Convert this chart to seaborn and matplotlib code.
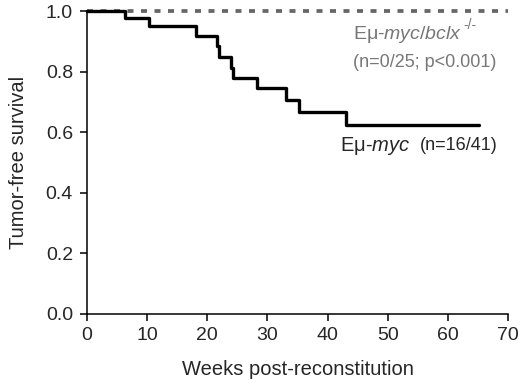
import matplotlib
matplotlib.use("Agg")
import matplotlib.pyplot as plt
import seaborn as sns
import pandas as pd

# --- Data ---
myc_weeks = [0, 6.3, 10.3, 18.1, 21.6, 22.0, 24.0, 24.3, 28.2, 33.1, 35.2, 43.1, 65.1]
myc_surv = [1.0, 0.976, 0.951, 0.917, 0.885, 0.849, 0.81, 0.78, 0.744, 0.705, 0.665, 0.623, 0.623]
bclx_weeks = [0, 70]
bclx_surv = [1.0, 1.0]

x_ticks = [0, 10, 20, 30, 40, 50, 60, 70]
y_ticks = [0.0, 0.2, 0.4, 0.6, 0.8, 1.0]

# --- Style ---
sns.set_theme(style="ticks")
plt.rcParams['font.family'] = ['Liberation Sans', 'DejaVu Sans']
plt.rcParams['mathtext.fontset'] = 'custom'
plt.rcParams['mathtext.rm'] = 'Liberation Sans'
plt.rcParams['mathtext.it'] = 'Liberation Sans:italic'

fig = plt.figure(figsize=(5.2, 3.8), dpi=100)
ax = fig.add_axes([0.167, 0.175, 0.81, 0.796])

df_myc = pd.DataFrame({'week': myc_weeks, 'surv': myc_surv})
df_bclx = pd.DataFrame({'week': bclx_weeks, 'surv': bclx_surv})

sns.lineplot(data=df_bclx, x='week', y='surv', ax=ax, color='#666666',
             linewidth=2.7, dashes=False, clip_on=False, zorder=2)
ax.lines[-1].set_dashes((1.6, 2.0))
sns.lineplot(data=df_myc, x='week', y='surv', ax=ax, color='black',
             linewidth=2.4, drawstyle='steps-post', clip_on=False, zorder=3)

# --- Annotations ---
ax.text(42.0, 0.554, r'E$\mathrm{\mu}$-$\mathit{myc}$', fontsize=14.5, va='center', ha='left')
ax.text(55.3, 0.554, '(n=16/41)', fontsize=13, va='center', ha='left')
gray_lbl = ax.text(44.2, 0.922, r'Eμ-$\mathit{myc/bclx}$', fontsize=14, color='#777777',
                   va='center', ha='left')
ax.annotate('-/-', xy=(1.0, 0.95), xycoords=gray_lbl, xytext=(1, 0),
            textcoords='offset points', fontsize=10, color='#777777',
            ha='left', va='center')
ax.text(44.2, 0.829, '(n=0/25; p<0.001)', fontsize=13, color='#777777',
        va='center', ha='left')

# --- Axes styling ---
ax.set_xlim(0, 70)
ax.set_ylim(0, 1.0)
ax.set_xticks(x_ticks)
ax.set_yticks(y_ticks)
ax.set_yticklabels([f'{v:.1f}' for v in y_ticks])
ax.set_xlabel('Weeks post-reconstitution', fontsize=14.5, labelpad=11)
ax.set_ylabel('Tumor-free survival', fontsize=14.5, labelpad=13)
ax.tick_params(axis='both', labelsize=14, length=5, width=1.1, color='black',
               direction='out', pad=5)
sns.despine(ax=ax)
for side in ['left', 'bottom']:
    ax.spines[side].set_linewidth(1.1)
    ax.spines[side].set_color('black')
ax.grid(False)

fig.savefig('out.png', dpi=100)
